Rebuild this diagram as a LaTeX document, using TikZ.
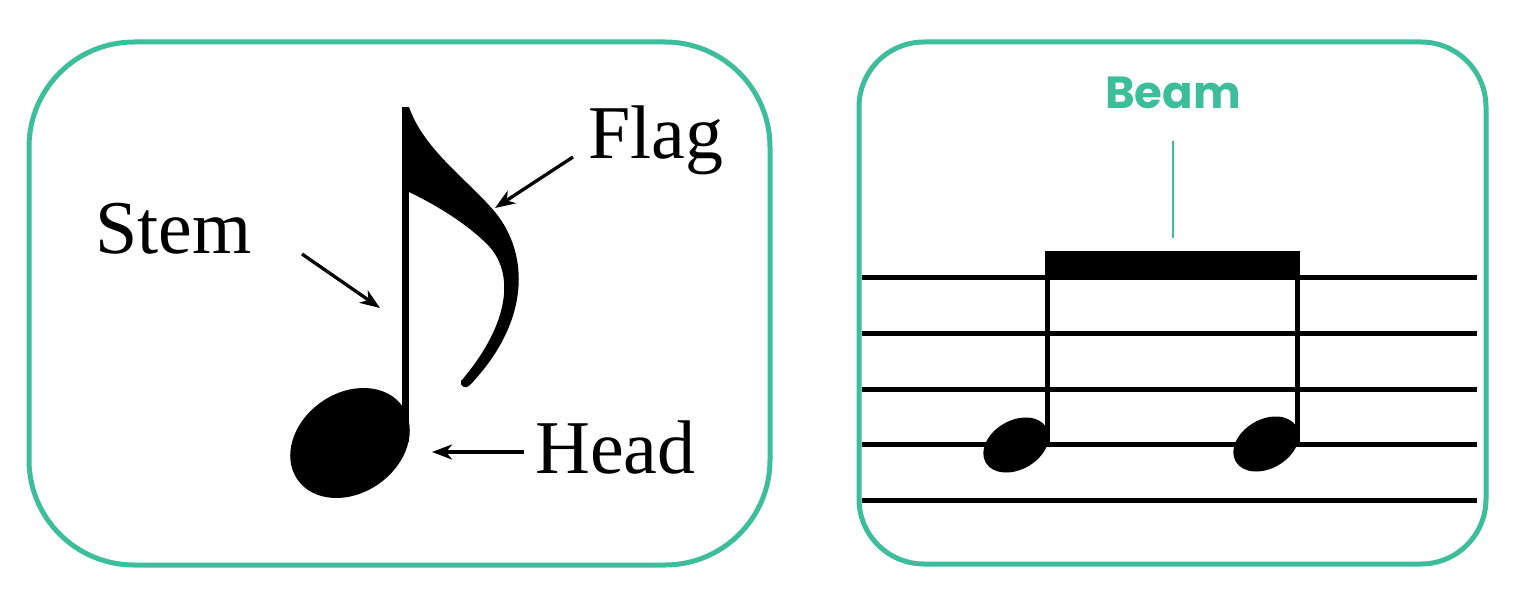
\documentclass[tikz,border=0pt]{standalone}
\usepackage{fontspec}
\setmainfont{Liberation Serif}
\newfontfamily\beamfont{Poppins}
\usetikzlibrary{arrows.meta}
\definecolor{teal1}{RGB}{60,190,155}
\tikzset{
  panel/.style={draw=teal1, line width=5pt},
  lbl/.style={inner sep=0pt, anchor=base west, font=\fontsize{76pt}{80pt}\selectfont},
  pointer/.style={line width=3.3pt, -{Stealth[length=20pt,width=15pt,inset=6pt]}},
  staffline/.style={line width=5pt},
  ink/.style={fill=black},
}
\begin{document}
\begin{tikzpicture}[x=1pt,y=-1pt]
\useasboundingbox (0,0) rectangle (1523,610);
% panels
\draw[panel, rounded corners=105pt] (29,42) rectangle (770,565);
\draw[panel, rounded corners=65pt] (859,42) rectangle (1486,564);

% ---- left panel: eighth note ----
\fill[ink, rotate around={35:(350,443)}] (350,443) ellipse [x radius=64, y radius=50];
\fill[ink] (401.5,107) rectangle (409,442);
\fill[ink] (405,107) -- (409,107) .. controls (424,150) and (468,180) .. (495,212)
  .. controls (530,255) and (530,322) .. (470,385)
  .. controls (466,390) and (459,386) .. (461,381)
  .. controls (505,330) and (518,277) .. (488,245)
  .. controls (468,225) and (440,207) .. (409,192) -- cycle;

\node[lbl] (flag) at (588,158) {Flag};
\node[lbl] (stem) at (95,253) {Stem};
\node[lbl] (head) at (535,473) {Head};

\coordinate (flagA) at (573,157);
\coordinate (flagB) at (495,208);
\coordinate (stemA) at (302,254);
\coordinate (stemB) at (380,308);
\coordinate (headA) at (524,452);
\coordinate (headB) at (432,452);
\draw[pointer] (flagA) -- (flagB);
\draw[pointer] (stemA) -- (stemB);
\draw[pointer] (headA) -- (headB);

% ---- right panel: beamed notes on staff ----
\foreach \y in {277,333,389,444,500}
  \draw[staffline] (862,\y) -- (1477,\y);
\fill[ink] (1044.5,251) rectangle (1300,278);
\fill[ink] (1044.5,251) rectangle (1049.5,445);
\fill[ink] (1294.5,251) rectangle (1299.5,445);
\fill[ink, rotate around={30:(1016,445)}] (1016,445) ellipse [x radius=35, y radius=24.5];
\fill[ink, rotate around={30:(1266,444)}] (1266,444) ellipse [x radius=35, y radius=24.5];

\node[inner sep=0pt, text=teal1, font=\beamfont\bfseries\fontsize{45pt}{48pt}\selectfont] (beam) at (1173,93) {Beam};
\coordinate (beamA) at (1173,141);
\coordinate (beamB) at (1173,238);
\draw[teal1, line width=2pt] (beamA) -- (beamB);
\end{tikzpicture}
\end{document}
